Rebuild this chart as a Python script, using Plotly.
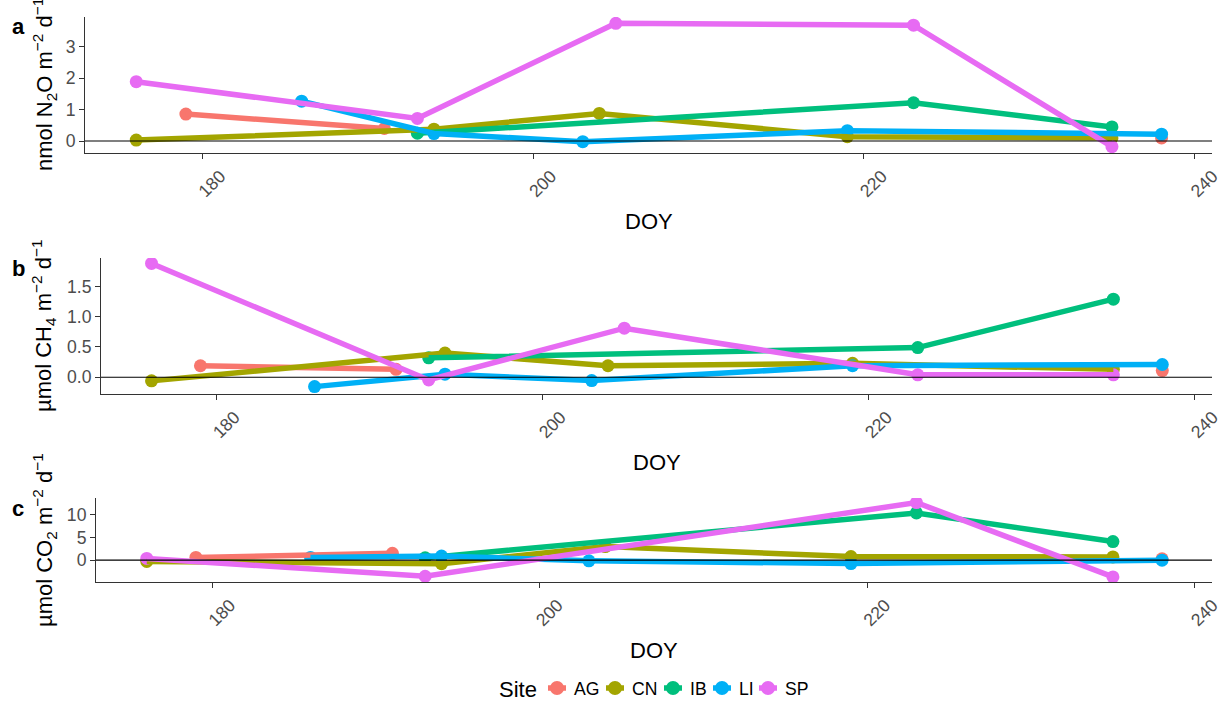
import plotly.graph_objects as go

# Sampling days (day of year) per site
doy_ag = [179, 191, 238]
doy_cn = [176, 194, 204, 219, 235]
doy_ib = [193, 223, 235]
doy_li = [186, 194, 203, 219, 238]
doy_sp = [176, 193, 205, 223, 235]

# N2O flux (nmol m-2 d-1)
n2o_ag = [0.86, 0.40, 0.10]
n2o_cn = [0.03, 0.38, 0.88, 0.14, 0.10]
n2o_ib = [0.25, 1.22, 0.45]
n2o_li = [1.27, 0.24, -0.02, 0.33, 0.22]
n2o_sp = [1.89, 0.72, 3.75, 3.69, -0.18]

# CH4 flux (umol m-2 d-1)
ch4_ag = [0.19, 0.13, 0.11]
ch4_cn = [-0.06, 0.40, 0.19, 0.23, 0.13]
ch4_ib = [0.32, 0.49, 1.29]
ch4_li = [-0.155, 0.05, -0.055, 0.19, 0.21]
ch4_sp = [1.88, -0.045, 0.81, 0.04, 0.04]

# CO2 flux (umol m-2 d-1); None = no measurement
co2_ag = [0.6, 1.5, 0.3]
co2_cn = [-0.3, -0.8, 3.0, 0.8, 0.7]
co2_ib = [0.5, 10.4, 4.1]
co2_li = [0.6, 0.9, -0.15, -0.75, 0.0]
co2_sp = [0.37, -3.55, None, 12.7, -3.7]

sites = ["AG", "CN", "IB", "LI", "SP"]
colors = ["#F8766D", "#A3A500", "#00BF7D", "#00B0F6", "#E76BF3"]
site_doy = [doy_ag, doy_cn, doy_ib, doy_li, doy_sp]
panels = [
    [n2o_ag, n2o_cn, n2o_ib, n2o_li, n2o_sp],
    [ch4_ag, ch4_cn, ch4_ib, ch4_li, ch4_sp],
    [co2_ag, co2_cn, co2_ib, co2_li, co2_sp],
]

y_titles = [
    "nmol N<sub>2</sub>O m<sup>−2</sup> d<sup>−1</sup>",
    "µmol CH<sub>4</sub> m<sup>−2</sup> d<sup>−1</sup>",
    "µmol CO<sub>2</sub> m<sup>−2</sup> d<sup>−1</sup>",
]
panel_tags = ["a", "b", "c"]
y_ticks = [[0, 1, 2, 3], [0.0, 0.5, 1.0, 1.5], [0, 5, 10]]
y_ranges = [[-0.38, 3.95], [-0.277, 1.97], [-4.82, 13.7]]
x_ticks = [180, 200, 220, 240]
x_range = [172.9, 241.05]

W, H = 1225, 713
# plot-area boxes in pixels: left, right, top, bottom
boxes = [(85, 1212, 17, 153), (101, 1212, 258, 394), (96, 1212, 498, 582)]
doy_label_y = [221, 462, 650]
tag_y = [27, 268, 508]

# legend layout (pixels)
legend_y = 688
legend_title_x = 497
legend_key_x = [557, 615, 673, 722, 768]
legend_key_half = 9

MAX_GAP = 30  # days; longer gaps between samples are not joined

font = "Liberation Sans, Arial, sans-serif"
TICK_SIZE = 17.6
TITLE_SIZE = 22


def clean(xs, ys):
    """Drop missing values."""
    pts = [(xv, yv) for xv, yv in zip(xs, ys) if yv is not None]
    return [p[0] for p in pts], [p[1] for p in pts]


def with_gaps(xs, ys):
    xs, ys = clean(xs, ys)
    gx, gy = [], []
    for i, (xv, yv) in enumerate(zip(xs, ys)):
        if i > 0 and xv - xs[i - 1] > MAX_GAP:
            gx.append(None)
            gy.append(None)
        gx.append(xv)
        gy.append(yv)
    return gx, gy


fig = go.Figure()
annotations = []
shapes = []

for p, vals in enumerate(panels):
    suffix = "" if p == 0 else str(p + 1)
    xa, ya = "x" + suffix, "y" + suffix
    # points first, lines drawn over them
    for s, name in enumerate(sites):
        px, py = clean(site_doy[s], vals[s])
        fig.add_trace(go.Scatter(
            x=px, y=py, mode="markers", xaxis=xa, yaxis=ya,
            marker=dict(color=colors[s], size=13), showlegend=False,
            hoverinfo="skip"))
    for s, name in enumerate(sites):
        gx, gy = with_gaps(site_doy[s], vals[s])
        fig.add_trace(go.Scatter(
            x=gx, y=gy, mode="lines", xaxis=xa, yaxis=ya,
            line=dict(color=colors[s], width=5.5), showlegend=False,
            connectgaps=False, hoverinfo="skip"))

    l, r, t, b = boxes[p]
    axis_common = dict(showgrid=False, zeroline=False, showline=True,
                       linecolor="#333333", linewidth=1.1, ticks="outside",
                       ticklen=5, tickwidth=1.1, tickcolor="#333333",
                       automargin=False,
                       tickfont=dict(family=font, size=TICK_SIZE,
                                     color="#4D4D4D"))
    fig.update_layout(**{
        "xaxis" + suffix: dict(axis_common, domain=[l / W, r / W],
                               anchor=ya, range=x_range, tickvals=x_ticks,
                               tickangle=-45, ticklabelshift=18),
        "yaxis" + suffix: dict(axis_common, domain=[1 - b / H, 1 - t / H],
                               anchor=xa, range=y_ranges[p],
                               tickvals=y_ticks[p],
                               tickformat=".1f" if p == 1 else "d"),
    })
    # zero reference line
    shapes.append(dict(type="line", xref=xa + " domain", yref=ya,
                       x0=0, x1=1, y0=0, y1=0,
                       line=dict(color="black", width=1.1)))
    annotations.append(dict(text="DOY", xref="paper", yref="paper",
                            x=(l + r) / 2 / W, y=1 - doy_label_y[p] / H,
                            showarrow=False, xanchor="center", yanchor="middle",
                            font=dict(family=font, size=TITLE_SIZE,
                                      color="black")))
    annotations.append(dict(text=y_titles[p], xref="paper", yref="paper",
                            x=44 / W, y=1 - (t + b) / 2 / H, textangle=-90,
                            showarrow=False, xanchor="center", yanchor="middle",
                            font=dict(family=font, size=TITLE_SIZE,
                                      color="black")))
    annotations.append(dict(text="<b>" + panel_tags[p] + "</b>", xref="paper",
                            yref="paper", x=18 / W, y=1 - tag_y[p] / H,
                            showarrow=False, xanchor="center", yanchor="middle",
                            font=dict(family=font, size=TITLE_SIZE,
                                      color="black")))

# legend drawn on a hidden pixel-scaled axis below the panels
fig.update_layout(
    xaxis4=dict(domain=[0, 1], range=[0, W], visible=False, anchor="y4",
                fixedrange=True, automargin=False),
    yaxis4=dict(domain=[0, 60 / H], range=[H, H - 60], visible=False,
                anchor="x4", fixedrange=True, automargin=False),
)
for s, name in enumerate(sites):
    kx = legend_key_x[s]
    fig.add_trace(go.Scatter(
        x=[kx - legend_key_half, kx, kx + legend_key_half],
        y=[legend_y, legend_y, legend_y], mode="lines", xaxis="x4",
        yaxis="y4", line=dict(color=colors[s], width=5.5), showlegend=False,
        hoverinfo="skip"))
    fig.add_trace(go.Scatter(
        x=[kx], y=[legend_y], mode="markers", xaxis="x4", yaxis="y4",
        marker=dict(color=colors[s], size=14), showlegend=False,
        name=name, hoverinfo="name"))
    annotations.append(dict(text=name, xref="x4", yref="y4",
                            x=kx + legend_key_half + 6, y=legend_y + 1,
                            showarrow=False, xanchor="left", yanchor="middle",
                            font=dict(family=font, size=TICK_SIZE,
                                      color="black")))
annotations.append(dict(text="Site", xref="x4", yref="y4",
                        x=legend_title_x, y=legend_y + 1,
                        showarrow=False, xanchor="left", yanchor="middle",
                        font=dict(family=font, size=TITLE_SIZE,
                                  color="black")))

fig.update_layout(
    width=W, height=H,
    margin=dict(l=0, r=0, t=0, b=0, autoexpand=False),
    paper_bgcolor="white", plot_bgcolor="white",
    font=dict(family=font, color="black"),
    annotations=annotations, shapes=shapes,
    showlegend=False,
)

fig.write_html("out.html")
